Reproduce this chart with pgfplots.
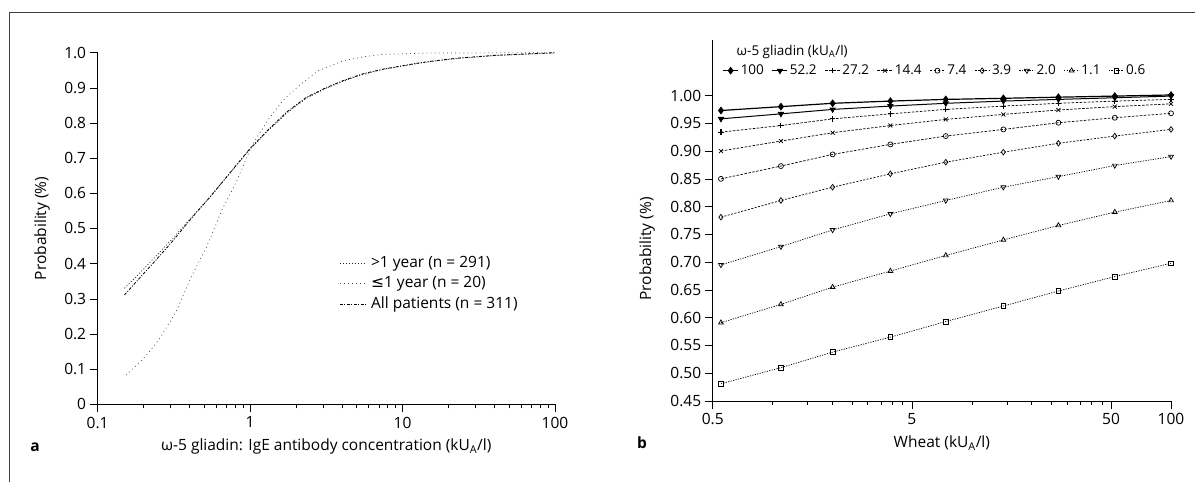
\documentclass[border=0pt]{standalone}
\usepackage{fontspec}
\setmainfont{Open Sans}
\newfontfamily\dejavu{DejaVu Sans}
\usepackage{pgfplots}
\pgfplotsset{compat=1.18}
\usepackage{pgfplotstable}

\newcommand\myfont{\fontsize{15.5bp}{18bp}\selectfont}
\newcommand\legfont{\fontsize{13.5bp}{16bp}\selectfont}

% panel a: probability vs omega-5 gliadin IgE
\pgfplotstableread{
x y
0.15 0.311
0.184 0.354
0.231 0.401
0.309 0.463
0.412 0.529
0.55 0.591
0.734 0.657
0.98 0.723
1.31 0.780
1.75 0.832
2.34 0.873
3.1 0.899
4.15 0.922
5.5 0.940
7.4 0.953
10 0.963
13.3 0.972
17.8 0.979
23.7 0.985
42 0.993
100 1.0
}\allpat

\pgfplotstableread{
x y
0.15 0.330
0.184 0.368
0.231 0.413
0.309 0.470
0.412 0.531
0.55 0.591
0.734 0.656
0.98 0.721
1.31 0.778
1.75 0.829
2.34 0.870
3.1 0.897
4.15 0.920
5.5 0.938
7.4 0.952
10 0.962
13.3 0.971
17.8 0.978
23.7 0.984
42 0.992
100 0.999
}\older

\pgfplotstableread{
x y
0.154 0.083
0.206 0.136
0.252 0.183
0.327 0.263
0.412 0.363
0.519 0.448
0.655 0.553
0.824 0.638
1.02 0.733
1.31 0.809
1.65 0.865
2.08 0.905
2.78 0.948
4.15 0.978
5.5 0.988
7.4 0.995
15 0.999
100 1.0
}\younger

% panel b: probability vs wheat IgE, one column per omega-5 gliadin level
\pgfplotstableread{
x s100 s52 s27 s14 s7 s3 s2 s1 s06
0.55 0.973 0.958 0.934 0.900 0.850 0.781 0.695 0.591 0.481
1.1 0.980 0.967 0.946 0.918 0.873 0.811 0.728 0.624 0.510
2.0 0.986 0.975 0.958 0.933 0.894 0.835 0.758 0.655 0.538
3.9 0.990 0.981 0.967 0.946 0.912 0.859 0.787 0.684 0.565
7.4 0.993 0.986 0.975 0.957 0.927 0.880 0.811 0.712 0.593
14.4 0.995 0.990 0.981 0.966 0.939 0.898 0.835 0.740 0.621
27.2 0.997 0.993 0.986 0.974 0.951 0.914 0.854 0.766 0.648
52.2 0.999 0.996 0.990 0.980 0.960 0.927 0.874 0.790 0.674
100 1.001 0.999 0.993 0.985 0.968 0.939 0.890 0.811 0.698
}\wheat

\begin{document}
\begin{tikzpicture}[x=1bp,y=1bp]
\path[use as bounding box] (0,0) rectangle (1195,482);
\draw[line width=0.8bp, black!75] (9,0) -- (9,470) -- (1195,470);

\begin{axis}[
  scale only axis, anchor=south west,
  at={(97.6bp,77.7bp)},
  width=457.4bp, height=351.6bp,
  xmode=log,
  axis x line=bottom, axis y line=left,
  axis line style={-, line width=0.8bp},
  tick align=outside,
  major tick length=8bp, minor tick length=4bp,
  tick style={line width=0.6bp, black},
  ticklabel style={font=\myfont},
  xticklabel style={yshift=-1bp},
  /pgf/number format/assume math mode=true,
  clip=false,
  xmin=0.1, xmax=100, ymin=0, ymax=1,
  xtick={0.1,1,10,100}, xticklabels={0.1,1,10,100},
  minor xtick={0.2,0.3,0.4,0.5,0.6,0.7,0.8,0.9,2,3,4,5,6,7,8,9,20,30,40,50,60,70,80,90},
  ytick={0,0.1,0.2,0.3,0.4,0.5,0.6,0.7,0.8,0.9,1.0},
  yticklabels={0,0.1,0.2,0.3,0.4,0.5,0.6,0.7,0.8,0.9,1.0},
  legend style={at={(0.528,0.422)}, anchor=north west, draw=none, fill=none,
    inner sep=0pt, row sep=6.5bp, column sep=5bp, font=\myfont,
    nodes={inner sep=0pt, text height=11bp, text depth=3bp}},
  legend cell align=left,
  legend image code/.code={\draw[#1] (0bp,0bp) -- (26bp,0bp);},
]
\addplot[black!85, line width=0.7bp, dash pattern=on 1bp off 2bp] table[x=x,y=y] {\older};
\addlegendentry{>1 year (n = 291)}
\addplot[black!70, line width=0.7bp, dash pattern=on 0.9bp off 3.2bp] table[x=x,y=y] {\younger};
\addlegendentry{{\dejavu ≤}1 year (n = 20)}
\addplot[black, line width=0.8bp, dash pattern=on 3bp off 1.5bp on 1bp off 1.5bp] table[x=x,y=y] {\allpat};
\addlegendentry{All patients (n = 311)}
\node[font=\myfont] at (rel axis cs:0.5,-0.12) {ω-5 gliadin: IgE antibody concentration (kU\textsubscript{A}/l)};
\node[font=\myfont, rotate=90] at (rel axis cs:-0.1216,0.5) {Probability (\%)};
\end{axis}

\begin{axis}[
  scale only axis, anchor=south west,
  at={(712.7bp,81bp)},
  width=458.3bp, height=361bp,
  xmode=log,
  axis x line=bottom, axis y line=left,
  axis line style={-, line width=0.8bp},
  tick align=outside,
  major tick length=8bp, minor tick length=4bp,
  tick style={line width=0.6bp, black},
  ticklabel style={font=\myfont},
  xticklabel style={yshift=-1bp},
  /pgf/number format/assume math mode=true,
  clip=false,
  xmin=0.5, xmax=100, ymin=0.45, ymax=1.1,
  xtick={0.5,5,50,100}, xticklabels={0.5,5,50,100},
  minor xtick={1,1.5,2,2.5,3,3.5,4,4.5,10,15,20,25,30,35,40,45},
  ytick={0.45,0.50,0.55,0.60,0.65,0.70,0.75,0.80,0.85,0.90,0.95,1.00},
  yticklabel style={/pgf/number format/fixed, /pgf/number format/fixed zerofill,
    /pgf/number format/precision=2},
  legend columns=9,
  legend style={at={(0.008,0.915)}, anchor=west, draw=none, fill=none,
    inner sep=0pt, column sep=2bp, font=\legfont,
    nodes={inner sep=0pt}},
  legend image code/.code={\path (-6bp,0bp); \draw[mark repeat=2, mark phase=2, #1] plot coordinates {(0bp,0bp) (7.5bp,0bp) (15bp,0bp)};},
  every axis plot/.append style={black, mark size=2.5bp},
]
\addplot[line width=1.2bp, mark=diamond*, mark size=3bp] table[x=x,y=s100] {\wheat};
\addlegendentry{100}
\addplot[line width=1.0bp, mark=triangle*, mark size=2.8bp, mark options={rotate=180}] table[x=x,y=s52] {\wheat};
\addlegendentry{52.2}
\addplot[line width=0.7bp, dash pattern=on 2.5bp off 1.5bp, mark=+, mark size=2.8bp, mark options={solid, line width=1.1bp}] table[x=x,y=s27] {\wheat};
\addlegendentry{27.2}
\addplot[line width=0.7bp, dash pattern=on 2.5bp off 1.5bp, mark=x, mark size=2.8bp, mark options={solid}] table[x=x,y=s14] {\wheat};
\addlegendentry{14.4}
\addplot[line width=0.7bp, dash pattern=on 2.5bp off 1.5bp, mark=o, mark options={solid, fill=white}] table[x=x,y=s7] {\wheat};
\addlegendentry{7.4}
\addplot[line width=0.7bp, dash pattern=on 2bp off 1.5bp, mark=diamond, mark size=2.8bp, mark options={solid, fill=white}] table[x=x,y=s3] {\wheat};
\addlegendentry{3.9}
\addplot[line width=0.7bp, dash pattern=on 1.2bp off 1.3bp, mark=triangle, mark size=2.8bp, mark options={solid, rotate=180, fill=white}] table[x=x,y=s2] {\wheat};
\addlegendentry{2.0}
\addplot[line width=0.7bp, dash pattern=on 1.2bp off 1.3bp, mark=triangle, mark size=2.8bp, mark options={solid, fill=white}] table[x=x,y=s1] {\wheat};
\addlegendentry{1.1}
\addplot[line width=0.7bp, dash pattern=on 1.2bp off 1.3bp, mark=square, mark size=2.3bp, mark options={solid, fill=white}] table[x=x,y=s06] {\wheat};
\addlegendentry{0.6}
\node[anchor=west, font=\legfont, inner sep=0pt] at (rel axis cs:0.052,0.967) {ω-5 gliadin (kU\textsubscript{A}/l)};
\node[font=\myfont] at (rel axis cs:0.5,-0.117) {Wheat (kU\textsubscript{A}/l)};
\node[font=\myfont, rotate=90] at (rel axis cs:-0.1434,0.421) {Probability (\%)};
\end{axis}

\node[font=\myfont\bfseries] at (35,35) {a};
\node[font=\myfont\bfseries] at (642,39) {b};
\end{tikzpicture}
\end{document}
